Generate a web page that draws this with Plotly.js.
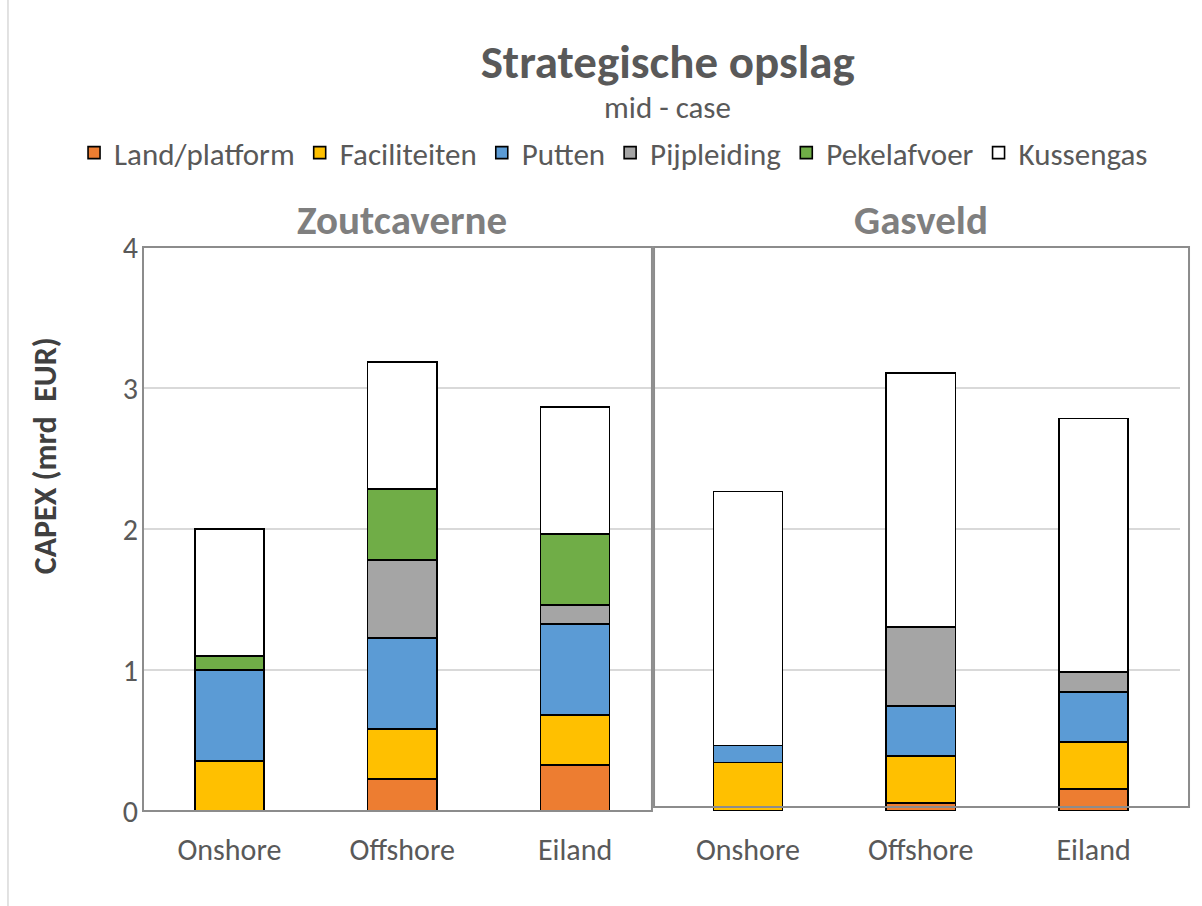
<!DOCTYPE html>
<html>
<head>
<meta charset="utf-8">
<script src="https://cdn.plot.ly/plotly-3.0.1.min.js"></script>
<style>html,body{margin:0;padding:0;background:#fff;}#chart{width:1202px;height:906px;}</style>
</head>
<body>
<div id="chart"></div>
<script>
// ---- data ----
const groups = ["Zoutcaverne", "Gasveld"];
const sites = ["Onshore", "Offshore", "Eiland"];
const seriesNames = ["Land/platform", "Faciliteiten", "Putten", "Pijpleiding", "Pekelafvoer", "Kussengas"];
const landPlatform = [0, 0.225, 0.325, 0, 0.055, 0.155];
const faciliteiten = [0.355, 0.355, 0.355, 0.345, 0.335, 0.335];
const putten      = [0.645, 0.645, 0.645, 0.12, 0.355, 0.355];
const pijpleiding = [0, 0.555, 0.135, 0, 0.56, 0.14];
const pekelafvoer = [0.10, 0.505, 0.505, 0, 0, 0];
const kussengas   = [0.90, 0.90, 0.90, 1.80, 1.80, 1.80];
const seriesColors = ["#ED7D31", "#FFC000", "#5B9BD5", "#A5A5A5", "#70AD47", "#FFFFFF"];

// ---- build ----
const font = "Carlito, 'Open Sans', 'Liberation Sans', sans-serif";
const xIdx = [];
const xLabels = [];
groups.forEach((g, gi) => sites.forEach((s, si) => { xIdx.push(gi * sites.length + si); xLabels.push(s); }));
const values = [landPlatform, faciliteiten, putten, pijpleiding, pekelafvoer, kussengas];

const traces = values.map((v, i) => ({
  type: "bar",
  name: seriesNames[i],
  x: xIdx,
  y: v,
  marker: { color: seriesColors[i], line: { color: "#000000", width: 1.6 } },
  hoverinfo: "name+y"
}));

const groupAnnotations = groups.map((g, gi) => ({
  text: "<b>" + g + "</b>",
  x: gi * sites.length + (sites.length - 1) / 2,
  xref: "x",
  y: 1.048, yref: "paper", yanchor: "middle",
  showarrow: false,
  font: { family: font, size: 41, color: "#7F7F7F" }
}));

const layout = {
  width: 1202, height: 906,
  margin: { l: 143, r: 22, t: 247, b: 95 },
  paper_bgcolor: "#ffffff",
  plot_bgcolor: "#ffffff",
  barmode: "stack",
  bargap: 0.6,
  showlegend: true,
  title: {
    text: "<b>Strategische opslag</b>",
    font: { family: font, size: 47, color: "#595959" },
    xref: "paper", x: 0.506, xanchor: "center",
    yref: "container", y: 0.9316, yanchor: "middle"
  },
  legend: {
    orientation: "h",
    xref: "paper", x: -0.0665, xanchor: "left",
    yref: "paper", y: (811 - 153) / 564, yanchor: "middle",
    traceorder: "normal",
    font: { family: font, size: 31, color: "#595959" },
    itemwidth: 30,
    tracegroupgap: 0
  },
  xaxis: {
    range: [-0.5, 5.5],
    tickmode: "array",
    tickvals: xIdx,
    ticktext: xLabels,
    ticks: "",
    showgrid: false,
    zeroline: false,
    showline: false,
    ticklabelstandoff: 18,
    tickfont: { family: font, size: 30, color: "#595959" },
    fixedrange: true
  },
  yaxis: {
    range: [0, 4],
    dtick: 1,
    tick0: 0,
    showgrid: true,
    gridcolor: "#D9D9D9",
    gridwidth: 1.5,
    zeroline: false,
    showline: false,
    ticks: "",
    ticklabelstandoff: 4,
    tickfont: { family: font, size: 30, color: "#595959" },
    fixedrange: true
  },
  annotations: groupAnnotations.concat([{
    text: "mid - case",
    xref: "paper", x: 0.506, xanchor: "center",
    yref: "paper", y: (811 - 107) / 564, yanchor: "middle",
    showarrow: false,
    font: { family: font, size: 31, color: "#595959" }
  }, {
    text: "<b>CAPEX (mrd  EUR)</b>",
    textangle: -90,
    xref: "paper", x: -0.0945, xanchor: "center",
    yref: "paper", y: 0.629, yanchor: "middle",
    showarrow: false,
    font: { family: font, size: 32, color: "#404040" }
  }]),
  shapes: [
    { type: "rect", xref: "paper", yref: "paper", x0: 0, x1: 0.4908, y0: 0, y1: 1,
      line: { color: "#8C8C8C", width: 2 }, fillcolor: "rgba(0,0,0,0)", layer: "above" },
    { type: "rect", xref: "paper", yref: "paper", x0: 0.4928, x1: 1.0087, y0: 0.0071, y1: 1,
      line: { color: "#8C8C8C", width: 2 }, fillcolor: "rgba(0,0,0,0)", layer: "above" },
    { type: "line", xref: "paper", yref: "paper", x0: -0.1302, x1: -0.1302, y0: -0.2, y1: 1.5,
      line: { color: "#D9D9D9", width: 1.5 } }
  ]
};

Plotly.newPlot("chart", traces, layout, { displayModeBar: false, staticPlot: true });
</script>
</body>
</html>
